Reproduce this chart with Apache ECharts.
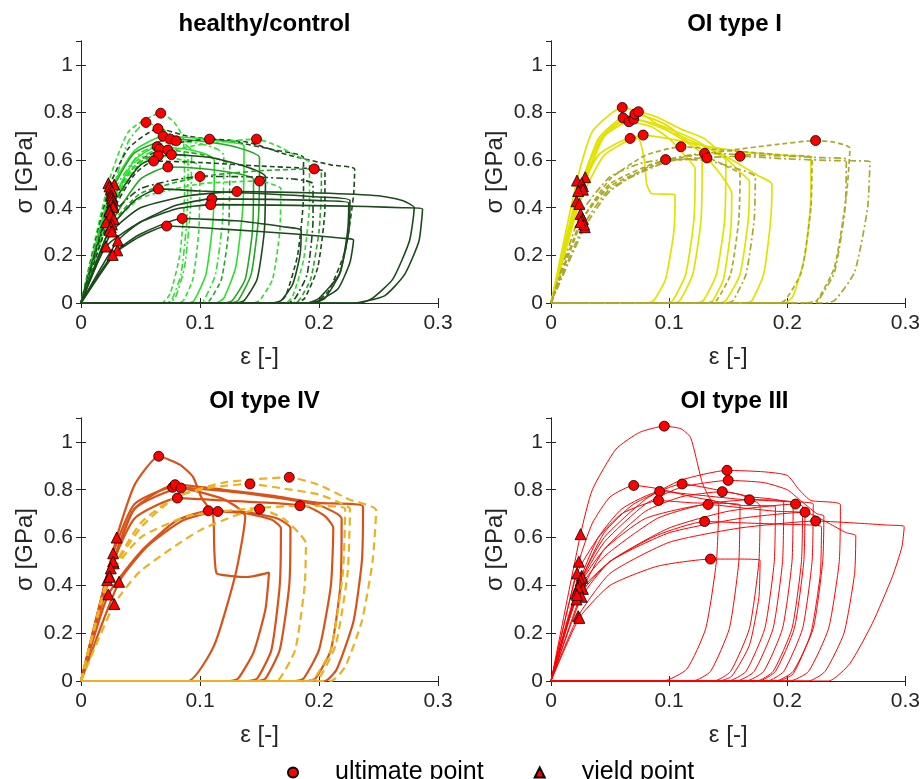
<!DOCTYPE html>
<html><head><meta charset="utf-8">
<script src="https://cdn.jsdelivr.net/npm/echarts@6/dist/echarts.min.js"></script>
<style>html,body{margin:0;padding:0;background:#fff}#c{width:923px;height:779px}</style>
</head><body><div id="c"></div>
<script>
// ---------------- DATA ----------------
const panelTitles = ['healthy/control', 'OI type I', 'OI type IV', 'OI type III'];
const xTicks = [0, 0.1, 0.2, 0.3];
const yTicks = [0, 0.2, 0.4, 0.6, 0.8, 1];
const legendNames = ['ultimate point', 'yield point'];

// healthy/control curves (strain, stress)
const healthyCurves = [
 [[0,0],[0.023,0.503],[0.04,0.72],[0.067,0.797],[0.078,0.76],[0.086,0.69],[0.087,0.45],[0.083,0.2],[0.075,0.04],[0.068,0],[0,0]],
 [[0,0],[0.028,0.497],[0.04,0.68],[0.0546,0.758],[0.07,0.725],[0.085,0.675],[0.093,0.64],[0.092,0.4],[0.087,0.15],[0.079,0.02],[0.072,0],[0,0]],
 [[0,0],[0.024,0.49],[0.04,0.65],[0.0647,0.732],[0.09,0.7],[0.13,0.675],[0.16,0.645],[0.187,0.61],[0.187,0.45],[0.182,0.2],[0.172,0.03],[0.165,0],[0,0]],
 [[0,0],[0.025,0.476],[0.045,0.64],[0.069,0.70],[0.1,0.69],[0.125,0.675],[0.137,0.66],[0.136,0.4],[0.13,0.15],[0.12,0.02],[0.113,0],[0,0]],
 [[0,0],[0.026,0.47],[0.045,0.63],[0.075,0.688],[0.1,0.68],[0.13,0.655],[0.15,0.61],[0.149,0.35],[0.143,0.12],[0.132,0.01],[0.125,0],[0,0]],
 [[0,0],[0.0255,0.451],[0.05,0.63],[0.080,0.681],[0.1,0.67],[0.115,0.645],[0.12,0.62],[0.119,0.35],[0.113,0.12],[0.103,0.01],[0.097,0],[0,0]],
 [[0,0],[0.026,0.44],[0.05,0.6],[0.08,0.67],[0.108,0.688],[0.14,0.675],[0.175,0.62],[0.21,0.58],[0.23,0.562],[0.229,0.45],[0.222,0.22],[0.208,0.05],[0.195,0],[0,0]],
 [[0,0],[0.027,0.43],[0.05,0.6],[0.1,0.665],[0.1475,0.688],[0.165,0.66],[0.18,0.62],[0.192,0.59],[0.192,0.42],[0.187,0.18],[0.178,0.03],[0.172,0],[0,0]],
 [[0,0],[0.026,0.423],[0.045,0.6],[0.064,0.656],[0.09,0.645],[0.105,0.625],[0.112,0.6],[0.111,0.35],[0.105,0.12],[0.095,0.01],[0.09,0],[0,0]],
 [[0,0],[0.027,0.41],[0.045,0.59],[0.066,0.646],[0.08,0.625],[0.09,0.605],[0.089,0.35],[0.084,0.12],[0.076,0.01],[0.071,0],[0,0]],
 [[0,0],[0.027,0.402],[0.05,0.59],[0.073,0.642],[0.1,0.625],[0.118,0.6],[0.125,0.58],[0.124,0.3],[0.118,0.1],[0.108,0.01],[0.102,0],[0,0]],
 [[0,0],[0.024,0.391],[0.05,0.58],[0.076,0.623],[0.11,0.61],[0.14,0.57],[0.155,0.53],[0.154,0.3],[0.148,0.1],[0.137,0.01],[0.13,0],[0,0]],
 [[0,0],[0.024,0.385],[0.045,0.57],[0.065,0.618],[0.085,0.6],[0.1,0.575],[0.099,0.3],[0.094,0.1],[0.086,0.01],[0.08,0],[0,0]],
 [[0,0],[0.025,0.37],[0.045,0.54],[0.061,0.596],[0.1,0.59],[0.15,0.575],[0.19,0.565],[0.205,0.55],[0.205,0.4],[0.199,0.15],[0.188,0.02],[0.18,0],[0,0]],
 [[0,0],[0.0275,0.353],[0.05,0.52],[0.073,0.571],[0.1,0.565],[0.13,0.545],[0.145,0.52],[0.144,0.3],[0.138,0.1],[0.127,0.01],[0.12,0],[0,0]],
 [[0,0],[0.021,0.339],[0.05,0.48],[0.1,0.531],[0.14,0.53],[0.18,0.52],[0.195,0.5],[0.195,0.35],[0.19,0.12],[0.18,0.02],[0.173,0],[0,0]],
 [[0,0],[0.026,0.33],[0.05,0.46],[0.1,0.53],[0.15,0.555],[0.196,0.563],[0.202,0.55],[0.202,0.48],[0.2,0.3],[0.193,0.1],[0.183,0.01],[0.177,0],[0,0]],
 [[0,0],[0.025,0.318],[0.05,0.44],[0.1,0.5],[0.150,0.512],[0.16,0.5],[0.168,0.48],[0.167,0.3],[0.161,0.1],[0.15,0.01],[0.144,0],[0,0]],
 [[0,0],[0.024,0.307],[0.045,0.43],[0.065,0.479],[0.1,0.47],[0.15,0.46],[0.2,0.445],[0.226,0.43],[0.225,0.3],[0.217,0.12],[0.2,0.02],[0.19,0],[0,0]],
 [[0,0],[0.026,0.30],[0.05,0.4],[0.09,0.45],[0.131,0.468],[0.2,0.462],[0.25,0.45],[0.27,0.43],[0.28,0.40],[0.276,0.26],[0.262,0.1],[0.245,0.02],[0.235,0],[0,0]],
 [[0,0],[0.031,0.262],[0.05,0.34],[0.08,0.41],[0.110,0.437],[0.16,0.435],[0.2,0.43],[0.225,0.42],[0.224,0.3],[0.218,0.13],[0.205,0.02],[0.195,0],[0,0]],
 [[0,0],[0.021,0.237],[0.05,0.34],[0.08,0.395],[0.109,0.413],[0.18,0.41],[0.24,0.405],[0.27,0.4],[0.287,0.395],[0.284,0.26],[0.272,0.12],[0.255,0.03],[0.228,0],[0,0]],
 [[0,0],[0.0305,0.221],[0.05,0.29],[0.085,0.355],[0.13,0.345],[0.17,0.32],[0.185,0.305],[0.184,0.2],[0.178,0.08],[0.168,0.01],[0.16,0],[0,0]],
 [[0,0],[0.0266,0.202],[0.05,0.28],[0.072,0.323],[0.12,0.31],[0.18,0.29],[0.22,0.272],[0.229,0.265],[0.226,0.17],[0.216,0.06],[0.2,0.01],[0.19,0],[0,0]]
];
const healthyGroup = [1,2,6,0,3,2,6,1,0,2,4,5,1,6,3,7,4,1,5,5,5,5,5,5];
const healthyUltimate = [[0.067,0.797],[0.0546,0.758],[0.0647,0.732],[0.069,0.70],[0.075,0.688],[0.080,0.681],[0.108,0.688],[0.1475,0.688],[0.064,0.656],[0.066,0.646],[0.073,0.642],[0.076,0.623],[0.065,0.618],[0.061,0.596],[0.073,0.571],[0.100,0.531],[0.196,0.563],[0.150,0.512],[0.065,0.479],[0.131,0.468],[0.110,0.437],[0.109,0.413],[0.085,0.355],[0.072,0.323]];
const healthyYield = [[0.023,0.503],[0.028,0.497],[0.024,0.49],[0.025,0.476],[0.026,0.47],[0.0255,0.451],[0.026,0.44],[0.027,0.43],[0.026,0.423],[0.027,0.41],[0.027,0.402],[0.024,0.391],[0.024,0.385],[0.025,0.37],[0.0275,0.353],[0.021,0.339],[0.026,0.33],[0.025,0.318],[0.024,0.307],[0.026,0.30],[0.031,0.262],[0.021,0.237],[0.0305,0.221],[0.0266,0.202]];

// OI type I
const type1Curves = [
 [[0,0],[0.022,0.514],[0.035,0.72],[0.0603,0.821],[0.075,0.8],[0.09,0.75],[0.11,0.69],[0.13,0.62],[0.145,0.53],[0.153,0.46],[0.152,0.3],[0.146,0.1],[0.137,0.01],[0.132,0],[0,0]],
 [[0,0],[0.029,0.528],[0.04,0.69],[0.061,0.777],[0.08,0.76],[0.11,0.7],[0.15,0.61],[0.175,0.535],[0.187,0.5],[0.186,0.35],[0.18,0.12],[0.17,0.01],[0.164,0],[0,0]],
 [[0,0],[0.026,0.503],[0.04,0.68],[0.066,0.761],[0.085,0.74],[0.1,0.69],[0.115,0.61],[0.122,0.565],[0.121,0.35],[0.114,0.12],[0.103,0.01],[0.097,0],[0,0]],
 [[0,0],[0.027,0.49],[0.045,0.7],[0.070,0.772],[0.09,0.75],[0.12,0.69],[0.14,0.63],[0.148,0.6],[0.147,0.35],[0.14,0.12],[0.129,0.01],[0.122,0],[0,0]],
 [[0,0],[0.027,0.476],[0.045,0.7],[0.071,0.793],[0.085,0.775],[0.1,0.74],[0.115,0.68],[0.128,0.64],[0.127,0.35],[0.12,0.12],[0.109,0.01],[0.103,0],[0,0]],
 [[0,0],[0.023,0.47],[0.045,0.71],[0.074,0.803],[0.09,0.78],[0.11,0.73],[0.13,0.69],[0.15,0.6],[0.16,0.55],[0.168,0.51],[0.167,0.35],[0.16,0.12],[0.148,0.01],[0.142,0],[0,0]],
 [[0,0],[0.0216,0.427],[0.04,0.62],[0.067,0.691],[0.074,0.69],[0.079,0.6],[0.081,0.5],[0.085,0.46],[0.105,0.455],[0.104,0.3],[0.097,0.1],[0.087,0.01],[0.082,0],[0,0]],
 [[0,0],[0.024,0.416],[0.045,0.62],[0.078,0.705],[0.1,0.69],[0.13,0.66],[0.17,0.63],[0.2,0.62],[0.22,0.61],[0.22,0.45],[0.215,0.2],[0.205,0.03],[0.198,0],[0,0]],
 [[0,0],[0.025,0.374],[0.05,0.53],[0.075,0.585],[0.097,0.602],[0.13,0.6],[0.16,0.56],[0.173,0.53],[0.172,0.35],[0.165,0.12],[0.154,0.01],[0.148,0],[0,0]],
 [[0,0],[0.027,0.353],[0.05,0.52],[0.08,0.62],[0.110,0.656],[0.15,0.64],[0.2,0.62],[0.221,0.61],[0.22,0.4],[0.212,0.13],[0.198,0.01],[0.19,0],[0,0]],
 [[0,0],[0.0286,0.318],[0.05,0.47],[0.09,0.59],[0.130,0.628],[0.18,0.62],[0.23,0.61],[0.25,0.605],[0.249,0.4],[0.24,0.13],[0.226,0.01],[0.218,0],[0,0]],
 [[0,0],[0.026,0.346],[0.05,0.5],[0.09,0.59],[0.132,0.609],[0.148,0.575],[0.16,0.54],[0.159,0.35],[0.152,0.12],[0.14,0.01],[0.133,0],[0,0]],
 [[0,0],[0.028,0.33],[0.05,0.48],[0.1,0.595],[0.160,0.616],[0.2,0.605],[0.24,0.598],[0.27,0.594],[0.268,0.4],[0.257,0.13],[0.24,0.01],[0.23,0],[0,0]],
 [[0,0],[0.025,0.34],[0.05,0.49],[0.1,0.6],[0.15,0.64],[0.19,0.665],[0.224,0.682],[0.24,0.675],[0.253,0.65],[0.25,0.45],[0.24,0.15],[0.225,0.01],[0.215,0],[0,0]]
];
const type1Group = [0,0,0,0,0,0,0,0,2,1,2,1,2,1];
const type1Ultimate = [[0.0603,0.821],[0.061,0.777],[0.066,0.761],[0.070,0.772],[0.071,0.793],[0.074,0.803],[0.067,0.691],[0.078,0.705],[0.097,0.602],[0.110,0.656],[0.130,0.628],[0.132,0.609],[0.160,0.616],[0.224,0.682]];
const type1Yield = [[0.022,0.514],[0.029,0.528],[0.026,0.503],[0.027,0.49],[0.027,0.476],[0.023,0.47],[0.0216,0.427],[0.024,0.416],[0.025,0.374],[0.027,0.353],[0.0286,0.318],[0.026,0.346],[0.028,0.33],[0.025,0.34]];

// OI type IV
const type4Curves = [
 [[0,0],[0.030,0.60],[0.045,0.82],[0.0653,0.94],[0.083,0.905],[0.094,0.855],[0.101,0.77],[0.111,0.69],[0.112,0.55],[0.114,0.45],[0.125,0.44],[0.14,0.435],[0.158,0.453],[0.155,0.3],[0.145,0.12],[0.132,0.01],[0.125,0],[0,0]],
 [[0,0],[0.027,0.534],[0.045,0.74],[0.077,0.81],[0.12,0.795],[0.16,0.77],[0.2,0.735],[0.215,0.7],[0.219,0.68],[0.218,0.4],[0.21,0.13],[0.197,0.01],[0.19,0],[0,0]],
 [[0,0],[0.0275,0.492],[0.045,0.72],[0.079,0.821],[0.12,0.8],[0.16,0.775],[0.2,0.745],[0.237,0.73],[0.236,0.5],[0.229,0.25],[0.215,0.05],[0.205,0],[0,0]],
 [[0,0],[0.027,0.50],[0.045,0.72],[0.084,0.807],[0.1,0.79],[0.12,0.76],[0.133,0.72],[0.138,0.69],[0.13,0.45],[0.112,0.15],[0.09,0],[0,0]],
 [[0,0],[0.025,0.471],[0.045,0.68],[0.081,0.765],[0.12,0.755],[0.16,0.745],[0.19,0.73],[0.205,0.69],[0.212,0.64],[0.21,0.4],[0.2,0.13],[0.187,0.01],[0.18,0],[0,0]],
 [[0,0],[0.023,0.362],[0.05,0.54],[0.08,0.67],[0.107,0.712],[0.14,0.705],[0.165,0.68],[0.176,0.64],[0.175,0.4],[0.167,0.13],[0.155,0.01],[0.148,0],[0,0]],
 [[0,0],[0.032,0.415],[0.055,0.56],[0.085,0.67],[0.115,0.709],[0.14,0.7],[0.16,0.675],[0.168,0.64],[0.167,0.4],[0.16,0.13],[0.148,0.01],[0.14,0],[0,0]],
 [[0,0],[0.024,0.44],[0.05,0.66],[0.08,0.77],[0.11,0.81],[0.142,0.824],[0.17,0.805],[0.2,0.78],[0.22,0.74],[0.226,0.72],[0.224,0.45],[0.214,0.15],[0.2,0.01],[0.192,0],[0,0]],
 [[0,0],[0.022,0.422],[0.05,0.64],[0.08,0.77],[0.12,0.83],[0.175,0.852],[0.2,0.82],[0.225,0.76],[0.248,0.715],[0.245,0.5],[0.236,0.25],[0.222,0.06],[0.21,0],[0,0]],
 [[0,0],[0.028,0.322],[0.05,0.46],[0.1,0.63],[0.150,0.719],[0.17,0.68],[0.183,0.62],[0.189,0.576],[0.188,0.4],[0.18,0.13],[0.167,0.01],[0.16,0],[0,0]],
 [[0,0],[0.024,0.436],[0.05,0.6],[0.09,0.69],[0.14,0.72],[0.184,0.733],[0.215,0.73],[0.222,0.72],[0.22,0.45],[0.21,0.13],[0.196,0.01],[0.19,0],[0,0]]
];
const type4Group = [0,0,0,0,0,0,0,1,1,1,1];
const type4Ultimate = [[0.0653,0.940],[0.077,0.810],[0.079,0.821],[0.084,0.807],[0.081,0.765],[0.107,0.712],[0.115,0.709],[0.142,0.824],[0.175,0.852],[0.150,0.719],[0.184,0.733]];
const type4Yield = [[0.030,0.60],[0.027,0.534],[0.0275,0.492],[0.027,0.50],[0.025,0.471],[0.023,0.362],[0.032,0.415],[0.024,0.44],[0.022,0.422],[0.028,0.322],[0.024,0.436]];

// OI type III
const type3Curves = [
 [[0,0],[0.025,0.614],[0.035,0.8],[0.055,0.97],[0.075,1.04],[0.0959,1.066],[0.11,1.055],[0.118,1.02],[0.123,0.93],[0.128,0.83],[0.135,0.76],[0.142,0.74],[0.14,0.5],[0.131,0.22],[0.115,0.05],[0.095,0],[0,0]],
 [[0,0],[0.0236,0.499],[0.035,0.66],[0.05,0.77],[0.070,0.818],[0.09,0.805],[0.12,0.77],[0.16,0.735],[0.19,0.73],[0.189,0.5],[0.181,0.22],[0.165,0.04],[0.15,0],[0,0]],
 [[0,0],[0.026,0.44],[0.04,0.6],[0.06,0.72],[0.092,0.793],[0.12,0.78],[0.16,0.76],[0.205,0.745],[0.204,0.5],[0.196,0.22],[0.18,0.04],[0.165,0],[0,0]],
 [[0,0],[0.022,0.45],[0.04,0.6],[0.06,0.7],[0.091,0.755],[0.12,0.745],[0.16,0.737],[0.159,0.5],[0.151,0.22],[0.135,0.04],[0.12,0],[0,0]],
 [[0,0],[0.0266,0.432],[0.045,0.62],[0.07,0.74],[0.111,0.824],[0.14,0.8],[0.17,0.77],[0.197,0.745],[0.196,0.5],[0.188,0.22],[0.172,0.04],[0.157,0],[0,0]],
 [[0,0],[0.025,0.42],[0.045,0.6],[0.08,0.76],[0.11,0.84],[0.149,0.881],[0.18,0.875],[0.2,0.86],[0.21,0.8],[0.22,0.755],[0.245,0.737],[0.244,0.5],[0.235,0.22],[0.218,0.04],[0.202,0],[0,0]],
 [[0,0],[0.024,0.401],[0.045,0.58],[0.08,0.74],[0.11,0.81],[0.150,0.839],[0.18,0.83],[0.2,0.8],[0.21,0.76],[0.225,0.7],[0.231,0.69],[0.23,0.5],[0.222,0.22],[0.205,0.04],[0.19,0],[0,0]],
 [[0,0],[0.027,0.385],[0.045,0.55],[0.08,0.71],[0.11,0.77],[0.145,0.792],[0.16,0.78],[0.175,0.745],[0.177,0.73],[0.176,0.5],[0.168,0.22],[0.152,0.04],[0.138,0],[0,0]],
 [[0,0],[0.023,0.39],[0.045,0.55],[0.08,0.68],[0.133,0.738],[0.16,0.725],[0.19,0.71],[0.215,0.7],[0.214,0.5],[0.206,0.22],[0.19,0.04],[0.176,0],[0,0]],
 [[0,0],[0.021,0.366],[0.045,0.52],[0.09,0.68],[0.13,0.74],[0.168,0.758],[0.2,0.75],[0.222,0.74],[0.221,0.5],[0.213,0.22],[0.197,0.04],[0.183,0],[0,0]],
 [[0,0],[0.026,0.352],[0.05,0.5],[0.1,0.64],[0.15,0.71],[0.207,0.74],[0.213,0.73],[0.212,0.5],[0.204,0.22],[0.188,0.04],[0.174,0],[0,0]],
 [[0,0],[0.0216,0.341],[0.05,0.5],[0.1,0.62],[0.16,0.68],[0.215,0.706],[0.235,0.66],[0.25,0.62],[0.258,0.608],[0.257,0.45],[0.248,0.2],[0.232,0.04],[0.218,0],[0,0]],
 [[0,0],[0.023,0.271],[0.05,0.45],[0.1,0.58],[0.16,0.64],[0.224,0.669],[0.26,0.66],[0.285,0.652],[0.299,0.646],[0.297,0.56],[0.289,0.437],[0.272,0.241],[0.253,0.073],[0.235,0],[0,0]],
 [[0,0],[0.022,0.36],[0.05,0.5],[0.09,0.61],[0.130,0.667],[0.17,0.66],[0.2,0.655],[0.229,0.645],[0.228,0.45],[0.22,0.2],[0.205,0.03],[0.192,0],[0,0]],
 [[0,0],[0.024,0.264],[0.05,0.4],[0.09,0.48],[0.135,0.510],[0.16,0.51],[0.177,0.505],[0.176,0.35],[0.168,0.15],[0.153,0.02],[0.142,0],[0,0]]
];
const type3Group = [0,0,0,0,0,0,0,0,0,0,0,0,0,0,0];
const type3Ultimate = [[0.0959,1.066],[0.070,0.818],[0.092,0.793],[0.091,0.755],[0.111,0.824],[0.149,0.881],[0.150,0.839],[0.145,0.792],[0.133,0.738],[0.168,0.758],[0.207,0.740],[0.215,0.706],[0.224,0.669],[0.130,0.667],[0.135,0.510]];
const type3Yield = [[0.025,0.614],[0.0236,0.499],[0.026,0.44],[0.022,0.45],[0.0266,0.432],[0.025,0.42],[0.024,0.401],[0.027,0.385],[0.023,0.39],[0.021,0.366],[0.026,0.352],[0.0216,0.341],[0.023,0.271],[0.022,0.36],[0.024,0.264]];

// ---------------- STYLE / LAYOUT ----------------
const FONT = '"Liberation Sans", Arial, Helvetica, sans-serif';
const AX = '#262626';
const dash = [5, 3], dashdot = [7, 3, 2, 3];
const styleSets = [
  [ // healthy
    {c:'#2ee02e', w:1.6, t:'solid'}, {c:'#2ee02e', w:1.6, t:dash}, {c:'#2ee02e', w:1.6, t:dashdot},
    {c:'#22a822', w:1.6, t:'solid'}, {c:'#22a822', w:1.6, t:dash},
    {c:'#1c4a1c', w:1.6, t:'solid'}, {c:'#1c4a1c', w:1.6, t:dash}, {c:'#1c4a1c', w:1.6, t:dashdot}
  ],
  [ {c:'#e2e200', w:1.7, t:'solid'}, {c:'#a9a92a', w:1.7, t:dash}, {c:'#a9a92a', w:1.7, t:dashdot} ],
  [ {c:'#d95319', w:2.2, t:'solid'}, {c:'#edb120', w:2.2, t:[8,5]} ],
  [ {c:'#ff0000', w:1.0, t:'solid'} ]
];
const panelData = [
  [healthyCurves, healthyGroup, healthyUltimate, healthyYield],
  [type1Curves, type1Group, type1Ultimate, type1Yield],
  [type4Curves, type4Group, type4Ultimate, type4Yield],
  [type3Curves, type3Group, type3Ultimate, type3Yield]
];
const grids = [
  {left:81, top:41, width:357, height:262},
  {left:551, top:41, width:357, height:262},
  {left:81, top:418, width:357, height:263},
  {left:551, top:418, width:357, height:263}
];
const fmt = v => String(Math.round(v * 10) / 10);

const option = {
  animation: false,
  backgroundColor: '#fff',
  textStyle: {fontFamily: FONT},
  title: [], grid: [], xAxis: [], yAxis: [], series: [],
  legend: {
    data: legendNames, left: 282, top: 755, itemWidth: 10, itemHeight: 10, itemGap: 50,
    textStyle: {fontSize: 25, color: '#000', fontFamily: FONT, padding: [0, 0, 0, 32]},
    selectedMode: false
  }
};

grids.forEach((g, i) => {
  option.grid.push(Object.assign({containLabel: false}, g));
  option.title.push({
    text: panelTitles[i], left: g.left + g.width / 2, top: g.top - 34, textAlign: 'center',
    textStyle: {fontSize: 24, fontWeight: 'bold', color: '#000', fontFamily: FONT}
  });
  const axLine = {show: true, lineStyle: {color: AX, width: 1}};
  const tick = {show: true, inside: true, length: 5, lineStyle: {color: AX}};
  option.xAxis.push({
    type: 'value', gridIndex: i, min: xTicks[0], max: xTicks[xTicks.length - 1], interval: 0.1,
    position: 'bottom', axisLine: axLine, axisTick: tick, splitLine: {show: false},
    axisLabel: {fontSize: 21, color: AX, margin: 10, formatter: fmt, fontFamily: FONT},
    name: 'ε [-]', nameLocation: 'middle', nameGap: 42,
    nameTextStyle: {fontSize: 24, color: AX, fontFamily: FONT}
  });
  option.xAxis.push({
    type: 'value', gridIndex: i, min: 0, max: 0.3, interval: 0.1, position: 'top',
    axisLine: axLine, axisTick: tick, axisLabel: {show: false}, splitLine: {show: false}
  });
  option.yAxis.push({
    type: 'value', gridIndex: i, min: yTicks[0], max: 1.1, interval: 0.2, position: 'left',
    axisLine: axLine, axisTick: tick, splitLine: {show: false},
    axisLabel: {fontSize: 21, color: AX, margin: 8, formatter: fmt, showMaxLabel: false, fontFamily: FONT},
    name: 'σ [GPa]', nameLocation: 'middle', nameGap: 44,
    nameTextStyle: {fontSize: 24, color: AX, fontFamily: FONT}
  });
  option.yAxis.push({
    type: 'value', gridIndex: i, min: 0, max: 1.1, interval: 0.2, position: 'right',
    axisLine: axLine, axisTick: tick, axisLabel: {show: false}, splitLine: {show: false}
  });

  const [curves, group, ult, yld] = panelData[i];
  curves.forEach((c, k) => {
    const st = styleSets[i][group[k]];
    option.series.push({
      type: 'line', xAxisIndex: 2 * i, yAxisIndex: 2 * i, data: c, symbol: 'none',
      smooth: 0.18, silent: true, z: 2,
      lineStyle: {color: st.c, width: st.w, type: st.t}
    });
  });
  option.series.push({
    name: legendNames[0], type: 'scatter', xAxisIndex: 2 * i, yAxisIndex: 2 * i, data: ult,
    symbol: 'circle', symbolSize: 10, z: 10,
    itemStyle: {color: '#ff0000', borderColor: '#000', borderWidth: 0.8, opacity: 1}
  });
  option.series.push({
    name: legendNames[1], type: 'scatter', xAxisIndex: 2 * i, yAxisIndex: 2 * i, data: yld,
    symbol: 'triangle', symbolSize: 11, z: 11,
    itemStyle: {color: '#ff0000', borderColor: '#000', borderWidth: 0.8, opacity: 1}
  });
});

const chart = echarts.init(document.getElementById('c'), null, {renderer: 'canvas'});
chart.setOption(option);
</script></body></html>
